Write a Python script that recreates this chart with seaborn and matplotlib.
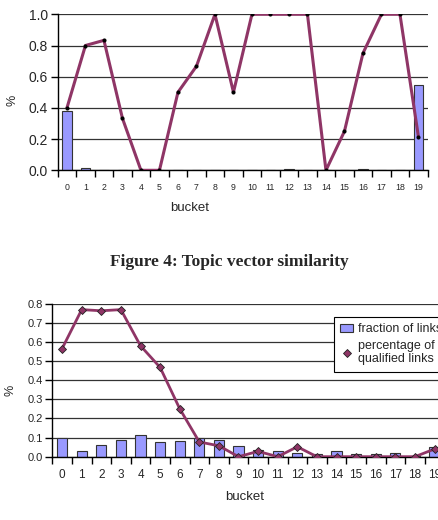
import numpy as np
import pandas as pd
import seaborn as sns
import matplotlib.pyplot as plt
from matplotlib.ticker import FixedLocator, FormatStrFormatter
from matplotlib.patches import Patch
from matplotlib.lines import Line2D

# data
buckets = list(range(20))

top_fraction = [0.38, 0.015, 0.003, 0.003, 0.0, 0.0, 0.002, 0.002, 0.001, 0.001,
                0.001, 0.002, 0.006, 0.002, 0.001, 0.003, 0.006, 0.002, 0.003, 0.545]
top_pct = [0.40, 0.80, 0.833, 0.333, 0.0, 0.0, 0.50, 0.667, 1.0, 0.50,
           1.0, 1.0, 1.0, 1.0, 0.0, 0.25, 0.75, 1.0, 1.0, 0.214]

bot_fraction = [0.098, 0.030, 0.059, 0.085, 0.112, 0.075, 0.082, 0.100, 0.085, 0.057,
                0.035, 0.028, 0.019, 0.012, 0.028, 0.015, 0.015, 0.019, 0.003, 0.049]
bot_pct = [0.565, 0.769, 0.763, 0.769, 0.580, 0.467, 0.251, 0.077, 0.057, 0.0,
           0.028, 0.0, 0.052, 0.0, 0.0, 0.0, 0.0, 0.0, 0.0, 0.040]

caption = "Figure 4: Topic vector similarity"

bar_color = "#9999ff"
line_color = "#8f3566"

sns.set_style("white")
plt.rcParams["font.family"] = ["Liberation Sans", "DejaVu Sans"]

fig = plt.figure(figsize=(4.38, 5.2), dpi=100)

def style_axes(ax, ymax, ystep, xfs, yfs):
    ax.set_xlim(-0.5, 19.5)
    ax.set_ylim(0, ymax)
    yt = np.round(np.arange(0, ymax + ystep / 2, ystep), 2)
    ax.set_yticks(yt)
    ax.yaxis.set_major_formatter(FormatStrFormatter("%.1f"))
    ax.set_xticks(buckets)
    ax.set_xticklabels([str(b) for b in buckets], fontsize=xfs)
    ax.xaxis.set_minor_locator(FixedLocator(np.arange(-0.5, 20, 1)))
    ax.tick_params(axis="x", which="major", length=0, pad=9)
    ax.tick_params(axis="x", which="minor", length=5, width=1, color="k", direction="out", bottom=True)
    ax.tick_params(axis="y", length=5, width=1, color="k", direction="out", left=True, labelsize=yfs, pad=2)
    for y in yt:
        ax.axhline(y, color="#333333", lw=0.9, zorder=0)
    for s in ["top", "right"]:
        ax.spines[s].set_visible(False)
    for s in ["left", "bottom"]:
        ax.spines[s].set_color("k")
        ax.spines[s].set_linewidth(1)
    ax.set_xlabel("")
    ax.set_ylabel("")

# top chart
ax1 = fig.add_axes([57.7 / 438, 1 - 170.3 / 520, 370 / 438, 156 / 520])
sns.barplot(x=buckets, y=top_fraction, color=bar_color, saturation=1, width=0.5,
            edgecolor="#333333", linewidth=0.8, ax=ax1, zorder=2)
sns.lineplot(x=buckets, y=top_pct, color=line_color, lw=2.2, marker="o", markersize=2.2,
             markerfacecolor="k", markeredgecolor="k", ax=ax1, zorder=3)
style_axes(ax1, 1.0, 0.2, 6.3, 10)
fig.text(12 / 438, 1 - 100 / 520, "%", rotation=90, fontsize=9, ha="center", va="center")
fig.text(190 / 438, 1 - 208 / 520, "bucket", fontsize=9.5, ha="center", va="center")

fig.text(229 / 438, 1 - 262 / 520, caption, fontsize=12.5, fontweight="bold",
         family=["Liberation Serif", "DejaVu Serif"], ha="center", va="center")

# bottom chart
ax2 = fig.add_axes([52.3 / 438, 1 - 456.7 / 520, 392 / 438, 153 / 520])
sns.barplot(x=buckets, y=bot_fraction, color=bar_color, saturation=1, width=0.53,
            edgecolor="#333333", linewidth=0.8, ax=ax2, zorder=2)
sns.lineplot(x=buckets, y=bot_pct, color=line_color, lw=2, marker="D", markersize=4.5,
             markerfacecolor=line_color, markeredgecolor="#222222", markeredgewidth=0.6,
             ax=ax2, zorder=3)
style_axes(ax2, 0.8, 0.1, 8.5, 8)
fig.text(10 / 438, 1 - 390 / 520, "%", rotation=90, fontsize=9, ha="center", va="center")
fig.text(245 / 438, 1 - 497 / 520, "bucket", fontsize=9.5, ha="center", va="center")

handles = [Patch(facecolor=bar_color, edgecolor="#333333", lw=0.8),
           Line2D([], [], ls="none", marker="D", markersize=4.5, markerfacecolor=line_color,
                  markeredgecolor="#222222", markeredgewidth=0.6)]
leg = ax2.legend(handles, ["fraction of links", "percentage of\nqualified links"],
                 loc="upper left", bbox_to_anchor=(334 / 438, 1 - 317 / 520),
                 bbox_transform=fig.transFigure, fontsize=9, frameon=True, fancybox=False,
                 framealpha=1, edgecolor="k", borderpad=0.5, handlelength=1.0,
                 handletextpad=0.4, labelspacing=0.35, borderaxespad=0)
leg.get_frame().set_linewidth(0.8)

fig.savefig("out.png", dpi=100)
